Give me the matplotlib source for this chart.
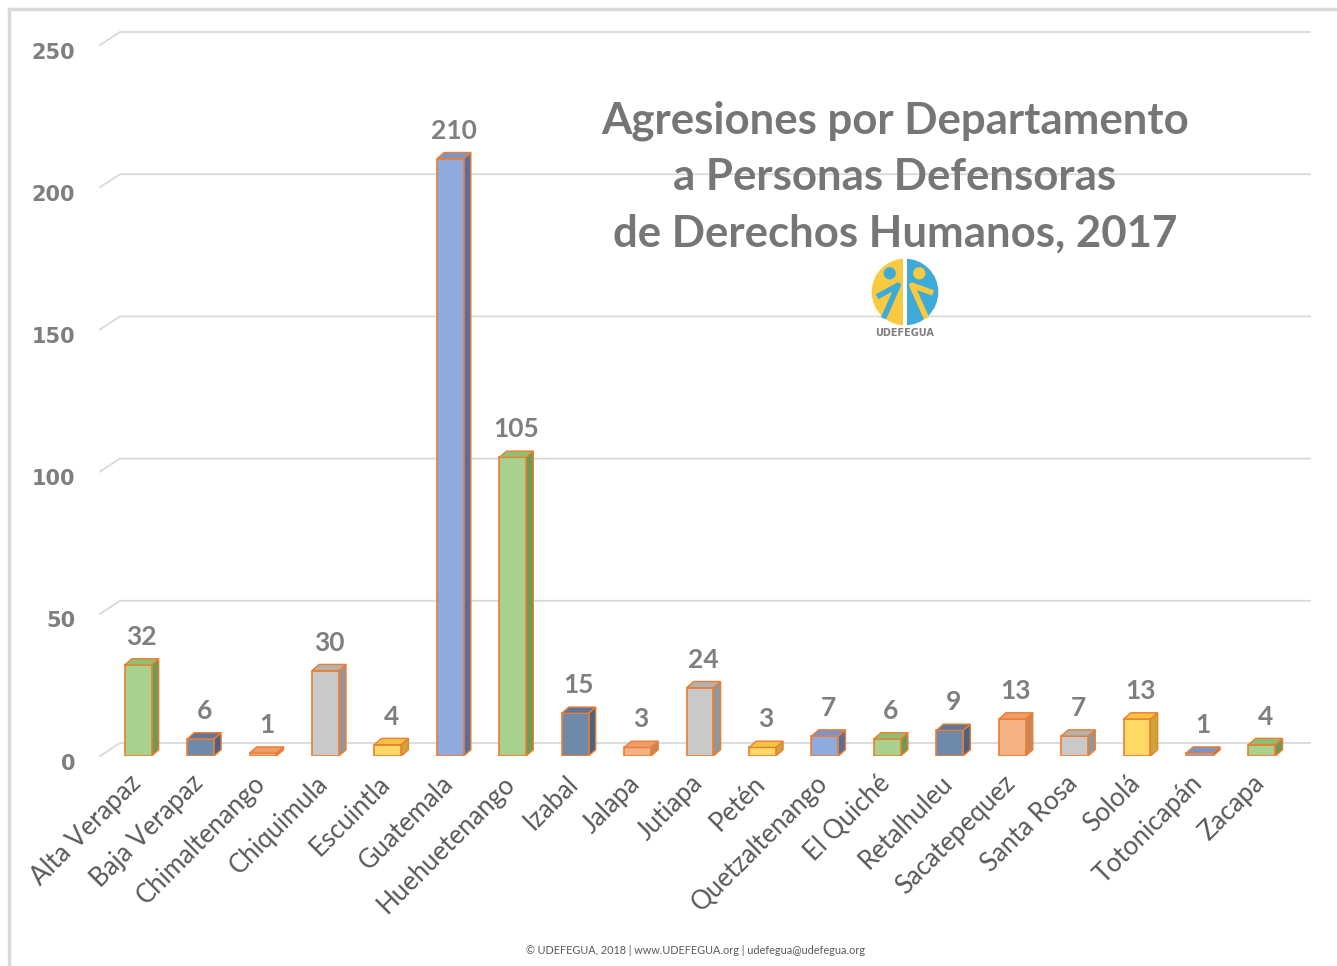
import matplotlib.pyplot as plt
import matplotlib.transforms as mtransforms
from matplotlib.patches import Polygon, Wedge, Circle, Rectangle

# datos
departamentos = ['Alta Verapaz', 'Baja Verapaz', 'Chimaltenango', 'Chiquimula', 'Escuintla',
                 'Guatemala', 'Huehuetenango', 'Izabal', 'Jalapa', 'Jutiapa', 'Petén',
                 'Quetzaltenango', 'El Quiché', 'Retalhuleu', 'Sacatepequez', 'Santa Rosa',
                 'Sololá', 'Totonicapán', 'Zacapa']
agresiones = [32, 6, 1, 30, 4, 210, 105, 15, 3, 24, 3, 7, 6, 9, 13, 7, 13, 1, 4]
yticks = [0, 50, 100, 150, 200, 250]
titulo = 'Agresiones por Departamento\na Personas Defensoras\nde Derechos Humanos, 2017'
pie = '© UDEFEGUA, 2018 | www.UDEFEGUA.org | udefegua@udefegua.org'

# colores: frente, lado, tapa
paleta = [
    ('#a9d18e', '#6e9a52', '#8fbf70'),   # verde
    ('#6f89aa', '#4b6282', '#5d7699'),   # azul gris
    ('#f4b183', '#c9865a', '#ec9d6a'),   # naranja
    ('#c9c9c9', '#969696', '#b2b2b2'),   # gris
    ('#ffd966', '#c9a637', '#f2c441'),   # amarillo
    ('#8faadc', '#5a6e9c', '#7b95c8'),   # azul
]
borde = '#ed7d31'
gris_txt = '#7f7f7f'

fig = plt.figure(figsize=(13.37, 9.66), dpi=100)
ax = fig.add_axes([100 / 1337, 1 - 756 / 966, 1190 / 1337, 711 / 966])
ax.set_xlim(-0.61, 18.45)
ax.set_ylim(0, 250)
for s in ax.spines.values():
    s.set_visible(False)

# lineas de la pared del fondo (perspectiva)
wx, wy = 0.32, 4.57
x0, x1 = ax.get_xlim()
for v in yticks:
    ax.plot([x0, x0 + wx, x1 + wx], [v, v + wy, v + wy], color='#d9d9d9', lw=1.3,
            clip_on=False, zorder=0)

ax.set_yticks(yticks)
ax.set_yticklabels([str(v) for v in yticks], fontsize=15, fontweight='bold',
                   color=gris_txt, family='DejaVu Sans')
ax.tick_params(axis='y', length=0, pad=18)
baja = mtransforms.ScaledTranslation(0, -4 / 72, fig.dpi_scale_trans)
for t in ax.get_yticklabels():
    t.set_transform(t.get_transform() + baja)
ax.set_xticks([])

# barras 3d
w = 0.43
bx, by = 0.115, 2.2
xs = list(range(len(agresiones)))
cols = [paleta[i % 6] for i in xs]
bars = ax.bar(xs, agresiones, width=w, color=[c[0] for c in cols], edgecolor=borde,
              linewidth=1.2, zorder=3)
for i, v in enumerate(agresiones):
    l, r = i - w / 2, i + w / 2
    ax.add_patch(Polygon([(r, 0), (r + bx, by), (r + bx, v + by), (r, v)],
                         closed=True, fc=cols[i][1], ec=borde, lw=1.0, zorder=2))
    ax.add_patch(Polygon([(l, v), (l + bx, v + by), (r + bx, v + by), (r, v)],
                         closed=True, fc=cols[i][2], ec=borde, lw=1.0, zorder=4))
    ax.annotate(str(v), (i + bx / 2, v + by), xytext=(0, 7), textcoords='offset points',
                ha='center', va='bottom', fontsize=19, fontweight='bold',
                color=gris_txt, family='Lato')
    ax.annotate(departamentos[i], (i - 0.02, 0), xytext=(0, -17), textcoords='offset points',
                ha='right', va='center', rotation=45, rotation_mode='anchor',
                fontsize=18.5, color='#595959', family='Lato', annotation_clip=False)

# titulo
fig.text(895 / 1337, 1 - 177 / 966, titulo, ha='center', va='center', fontsize=31.5,
         fontweight='bold', color='#767676', family='Lato', linespacing=1.5)

# logo
lax = fig.add_axes([871 / 1337, 1 - 326 / 966, 68 / 1337, 68 / 966])
lax.set_xlim(-1, 1)
lax.set_ylim(-1, 1)
lax.set_aspect('equal')
lax.axis('off')
lax.add_patch(Wedge((0, 0), 0.98, 90, 270, fc='#f9c940', ec='none'))
lax.add_patch(Wedge((0, 0), 0.98, 270, 90, fc='#3eaad8', ec='none'))
lax.add_patch(Rectangle((-0.06, -1), 0.12, 2, fc='white', ec='none'))
lax.add_patch(Circle((-0.45, 0.55), 0.18, fc='#3eaad8', ec='none'))
lax.add_patch(Circle((0.42, 0.55), 0.18, fc='#f9c940', ec='none'))
lax.plot([-0.75, -0.2, -0.6], [-0.1, 0.2, -0.7], color='#3eaad8', lw=4)
lax.plot([0.75, 0.2, 0.6], [0.0, 0.2, -0.7], color='#f9c940', lw=4)
fig.text(905 / 1337, 1 - 333 / 966, 'UDEFEGUA', ha='center', va='center', fontsize=7,
         fontweight='bold', color='#7f7f7f', family='DejaVu Sans')

fig.text(696 / 1337, 1 - 951 / 966, pie, ha='center', va='center', fontsize=7.8,
         color='#595959', family='Lato')

# marco
fig.add_artist(plt.Line2D([9 / 1337, 9 / 1337], [0, 1 - 9 / 966], color='#d9d9d9', lw=2.5,
                          transform=fig.transFigure))
fig.add_artist(plt.Line2D([9 / 1337, 1335 / 1337], [1 - 9 / 966, 1 - 9 / 966],
                          color='#d9d9d9', lw=2.5, transform=fig.transFigure))

fig.savefig('out.png', dpi=100, facecolor='white')
